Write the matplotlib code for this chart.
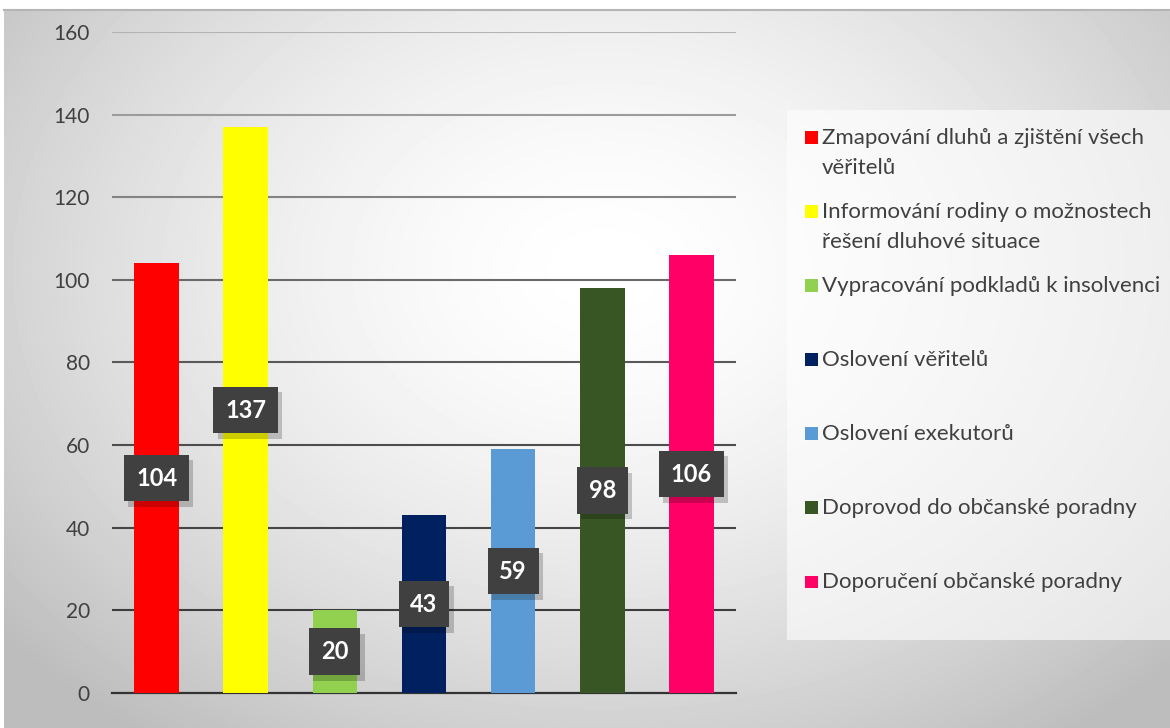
import matplotlib.pyplot as plt
import matplotlib.patches as mpatches
import matplotlib.patheffects as pe
from matplotlib.legend_handler import HandlerPatch
import numpy as np

categories = [
    "Zmapování dluhů a zjištění všech\nvěřitelů",
    "Informování rodiny o možnostech\nřešení dluhové situace",
    "Vypracování podkladů k insolvenci",
    "Oslovení věřitelů",
    "Oslovení exekutorů",
    "Doprovod do občanské poradny",
    "Doporučení občanské poradny",
]
values = [104, 137, 20, 43, 59, 98, 106]
colors = ["#FF0000", "#FFFF00", "#92D050", "#002060", "#5B9BD5", "#375623", "#FF0066"]
yticks = [0, 20, 40, 60, 80, 100, 120, 140, 160]
grid_colors = ["#333333", "#3c3c3c", "#454545", "#4d4d4d", "#595959",
               "#6a6a6a", "#838383", "#9c9c9c", "#b3b3b3"]

plt.rcParams['font.family'] = ['Lato', 'DejaVu Sans']

LEG_FS = 16


class FirstLineSquare(HandlerPatch):
    """Small square aligned with the first line of a two-line legend label."""

    def create_artists(self, legend, orig_handle, xdescent, ydescent,
                       width, height, fontsize, trans):
        side = 0.58 * fontsize
        yc = 1.05 * fontsize
        p = mpatches.Rectangle((-xdescent, yc - side / 2), side, side,
                               facecolor=orig_handle.get_facecolor(),
                               edgecolor="none", transform=trans)
        return [p]


fig = plt.figure(figsize=(11.7, 7.28), dpi=100)

# radial gray background of the chart area
bg = fig.add_axes([4 / 1170, 0, 1 - 4 / 1170, 1 - 10 / 728], zorder=-10)
h, w = 718, 1166
yy, xx = np.mgrid[0:h, 0:w]
r = np.sqrt(((xx - 600) / 700) ** 2 + ((yy - 260) / 520) ** 2)
shade = np.clip(1.0 - 0.22 * r ** 1.6, 0.74, 1.0)
bg.imshow(shade, cmap="gray", vmin=0, vmax=1, aspect="auto", interpolation="bilinear")
bg.set_xticks([])
bg.set_yticks([])
for side in ["left", "right", "bottom"]:
    bg.spines[side].set_visible(False)
bg.spines["top"].set_color("#b5b5b5")
bg.spines["top"].set_linewidth(1.5)

ax = fig.add_axes([112 / 1170, 1 - 693 / 728, 624 / 1170, 661 / 728])
ax.patch.set_alpha(0)
x = np.arange(len(values))
ax.set_xlim(-0.5, len(values) - 0.5)
ax.set_ylim(0, 160)
ax.set_yticks(yticks)
for yt, gc in zip(yticks[1:], grid_colors[1:]):
    ax.axhline(yt, color=gc, linewidth=1.5, zorder=1)
ax.tick_params(axis="y", length=0, pad=16, labelsize=15, labelcolor="#404040")
ax.set_xticks([])
for side in ["left", "right", "top"]:
    ax.spines[side].set_visible(False)
ax.spines["bottom"].set_color(grid_colors[0])
ax.spines["bottom"].set_linewidth(1.6)

bars = ax.bar(x, values, width=0.5, color=colors, zorder=3)

# value labels in dark boxes with a soft shadow
for xi, v in zip(x, values):
    t = ax.text(xi, v / 2, str(v), ha="center", va="center", fontsize=17,
                fontweight="bold", color="white", zorder=5,
                bbox=dict(boxstyle="square,pad=0.5", facecolor="#404040",
                          edgecolor="none"))
    t.get_bbox_patch().set_path_effects([
        pe.SimplePatchShadow(offset=(3, -4), shadow_rgbFace="black", alpha=0.2),
        pe.Normal(),
    ])

# every legend slot gets two lines so the entries are evenly spaced
handles = [mpatches.Patch(facecolor=c) for c in colors]
leg_labels = [c if "\n" in c else c + "\n" for c in categories]
leg = fig.legend(handles, leg_labels, loc="upper left",
                 bbox_to_anchor=(787 / 1170, 1 - 110 / 728),
                 bbox_transform=fig.transFigure,
                 handler_map={mpatches.Patch: FirstLineSquare()},
                 frameon=True, fontsize=LEG_FS, labelcolor="#404040",
                 handlelength=0.58, handleheight=0.7, handletextpad=0.2,
                 labelspacing=1.08, borderpad=0.8, borderaxespad=0,
                 fancybox=False)
for t in leg.get_texts():
    t.set_linespacing(1.63)
leg.get_frame().set_facecolor("white")
leg.get_frame().set_alpha(0.6)
leg.get_frame().set_edgecolor("none")

fig.savefig("out.png", dpi=100)
